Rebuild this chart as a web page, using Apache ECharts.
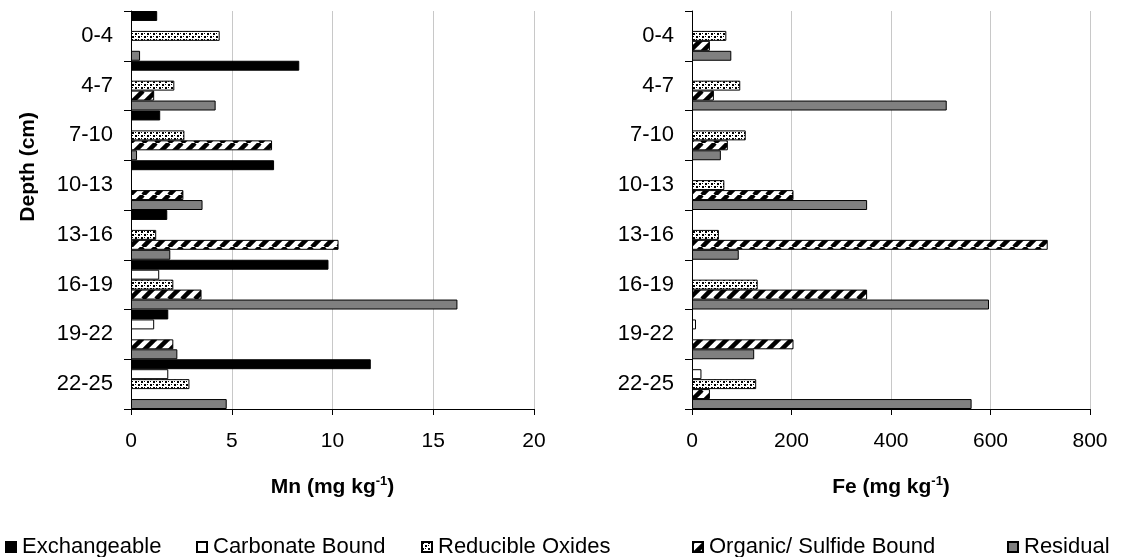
<!DOCTYPE html>
<html>
<head>
<meta charset="utf-8">
<script src="https://cdn.jsdelivr.net/npm/echarts@6/dist/echarts.min.js"></script>
<style>
html,body{margin:0;padding:0;background:#fff;}
#chart{width:1130px;height:557px;}
</style>
</head>
<body>
<div id="chart"></div>
<script>
// ---- data ----
const depths = ['0-4', '4-7', '7-10', '10-13', '13-16', '16-19', '19-22', '22-25'];
const fractions = ['Exchangeable', 'Carbonate Bound', 'Reducible Oxides', 'Organic/ Sulfide Bound', 'Residual'];

const mnExchangeable = [1.3, 8.35, 1.45, 7.1, 1.8, 9.8, 1.85, 11.9];
const mnCarbonate    = [null, null, null, null, null, 1.4, 1.15, 1.85];
const mnReducible    = [4.4, 2.15, 2.65, null, 1.25, 2.1, null, 2.9];
const mnOrganic      = [null, 1.15, 7.0, 2.6, 10.3, 3.5, 2.1, null];
const mnResidual     = [0.45, 4.2, 0.3, 3.55, 1.95, 16.2, 2.3, 4.75];

const feExchangeable = [null, null, null, null, null, null, null, null];
const feCarbonate    = [null, null, null, null, null, null, 8, 19];
const feReducible    = [69, 97, 108, 65, 54, 132, null, 129];
const feOrganic      = [36, 44, 72, 204, 715, 352, 204, 36];
const feResidual     = [79, 512, 58, 352, 94, 597, 125, 562];

const mnTicks = { min: 0, max: 20, interval: 5 };
const feTicks = { min: 0, max: 800, interval: 200 };

// ---- patterns ----
function dotPattern() {
  const c = document.createElement('canvas');
  c.width = 6; c.height = 6;
  const g = c.getContext('2d');
  g.fillStyle = '#fff'; g.fillRect(0, 0, 6, 6);
  g.fillStyle = '#000';
  g.fillRect(0, 0, 2, 2);
  g.fillRect(3, 3, 2, 2);
  g.fillRect(3, 0, 1, 1);
  g.fillRect(0, 3, 1, 1);
  return { image: c, repeat: 'repeat' };
}
function stripePattern() {
  const s = 13;
  const c = document.createElement('canvas');
  c.width = s; c.height = s;
  const g = c.getContext('2d');
  g.fillStyle = '#fff'; g.fillRect(0, 0, s, s);
  g.strokeStyle = '#000'; g.lineWidth = 4.5;
  for (const k of [-s, 0, s]) {
    g.beginPath(); g.moveTo(k, s); g.lineTo(k + s, 0); g.stroke();
  }
  return { image: c, repeat: 'repeat' };
}
const fills = ['#000000', '#ffffff', dotPattern(), stripePattern(), '#808080'];

const FONT = 'Liberation Sans, Arial, sans-serif';

function makeSeries(idx, arrays) {
  return arrays.map((data, i) => ({
    name: fractions[i],
    type: 'bar',
    xAxisIndex: idx,
    yAxisIndex: idx,
    data: data,
    barGap: '0%',
    barCategoryGap: '0%',
    itemStyle: { color: fills[i], borderColor: '#000', borderWidth: 1 },
    emphasis: { disabled: true },
    animation: false
  }));
}

function xAxis(idx, ticks, label) {
  return {
    gridIndex: idx, type: 'value', min: ticks.min, max: ticks.max, interval: ticks.interval,
    axisLine: { show: true, lineStyle: { color: '#000', width: 1 } },
    axisTick: { show: true, length: 6, lineStyle: { color: '#000' } },
    splitLine: { show: true, lineStyle: { color: '#c8c8c8', width: 1 } },
    axisLabel: { color: '#000', fontSize: 21, fontFamily: FONT, margin: 22 },
    name: '{b|' + label + ' (mg kg}{s|-1}{b|)}',
    nameLocation: 'middle', nameGap: 66,
    nameTextStyle: {
      rich: {
        b: { fontSize: 21, fontWeight: 'bold', fontFamily: FONT, color: '#000' },
        s: { fontSize: 13, fontWeight: 'bold', fontFamily: FONT, color: '#000', verticalAlign: 'top', padding: [0, 0, 12, 0] }
      }
    }
  };
}
function yAxis(idx) {
  return {
    gridIndex: idx, type: 'category', data: depths, inverse: true,
    axisLine: { show: true, lineStyle: { color: '#000', width: 1 } },
    axisTick: { show: true, length: 7, alignWithLabel: false, lineStyle: { color: '#000' } },
    splitLine: { show: false },
    axisLabel: { color: '#000', fontSize: 22, fontFamily: FONT, margin: 18 }
  };
}

const legendLefts = [0, 191, 416, 687, 1002];
const legends = fractions.map((f, i) => ({
  data: [f], left: legendLefts[i], top: 531,
  itemWidth: 10, itemHeight: 10, itemGap: 6,
  icon: 'rect',
  selectedMode: false,
  textStyle: { fontSize: 22, fontFamily: FONT, color: '#000', padding: [0, 0, 0, 1] }
}));

const option = {
  backgroundColor: '#fff',
  animation: false,
  legend: legends,
  grid: [
    { left: 131, top: 11, width: 403, height: 398 },
    { left: 692, top: 11, width: 398, height: 398 }
  ],
  xAxis: [xAxis(0, mnTicks, 'Mn'), xAxis(1, feTicks, 'Fe')],
  yAxis: [yAxis(0), yAxis(1)],
  graphic: [{
    type: 'text', left: 18, top: 112, rotation: Math.PI / 2,
    style: { text: 'Depth (cm)', fontSize: 21, fontWeight: 'bold', fontFamily: FONT, fill: '#000' }
  }],
  series: [
    ...makeSeries(0, [mnExchangeable, mnCarbonate, mnReducible, mnOrganic, mnResidual]),
    ...makeSeries(1, [feExchangeable, feCarbonate, feReducible, feOrganic, feResidual])
  ]
};

const chart = echarts.init(document.getElementById('chart'), null, { renderer: 'canvas' });
chart.setOption(option);
</script>
</body>
</html>
